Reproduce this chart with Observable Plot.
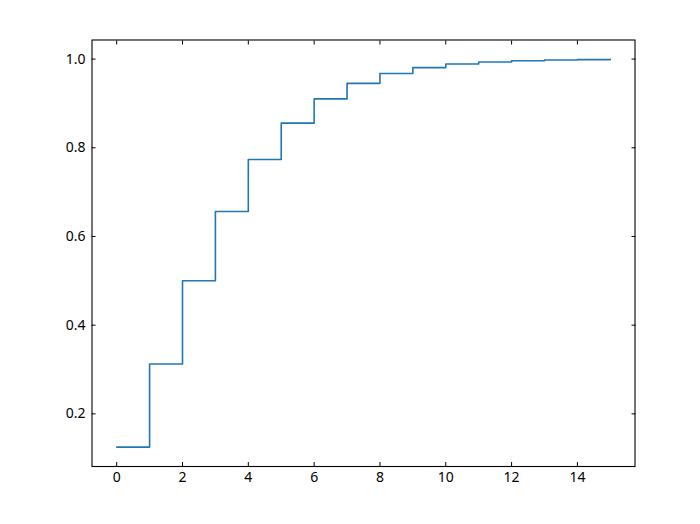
<!DOCTYPE html>
<html><head><meta charset="utf-8">
<script src="https://cdn.jsdelivr.net/npm/d3@7"></script>
<script src="https://cdn.jsdelivr.net/npm/@observablehq/plot@0.6"></script>
<style>body{margin:0;background:#fff;}</style>
</head><body><div id="chart"></div>
<script>
const xs = [0, 1, 2, 3, 4, 5, 6, 7, 8, 9, 10, 11, 12, 13, 14, 15];
const cdf = [0.125, 0.3125, 0.5, 0.65625, 0.7734, 0.8555, 0.9102, 0.9453, 0.9673, 0.9807, 0.9888, 0.9935, 0.9963, 0.9979, 0.9988, 0.9993];
const xTicks = [0, 2, 4, 6, 8, 10, 12, 14];
const yTicks = [0.2, 0.4, 0.6, 0.8, 1.0];

const data = xs.map((x, i) => ({x, y: cdf[i]}));
const font = "Noto Sans, DejaVu Sans, sans-serif";

const plot = Plot.plot({
  width: 700,
  height: 524,
  marginLeft: 91.5,
  marginRight: 65.5,
  marginTop: 39.5,
  marginBottom: 58,
  style: {fontFamily: font, fontSize: "14px", color: "#000", background: "#fff"},
  x: {domain: [-0.75, 15.75]},
  y: {domain: [0.0813, 1.043]},
  marks: [
    Plot.line(data, {x: "x", y: "y", curve: "step-after", stroke: "#1f77b4", strokeWidth: 1.6}),
    Plot.frame({stroke: "#000", strokeWidth: 1.1}),
    Plot.axisX(xTicks, {anchor: "bottom", tickSize: -4, tickPadding: 10, label: null, tickFormat: d3.format("d")}),
    Plot.axisX(xTicks, {anchor: "top", tickSize: -4, label: null, tickFormat: () => ""}),
    Plot.axisY(yTicks, {anchor: "left", tickSize: -4, tickPadding: 10.5, label: null, tickFormat: d3.format(".1f")}),
    Plot.axisY(yTicks, {anchor: "right", tickSize: -4, label: null, tickFormat: () => ""})
  ]
});
document.getElementById("chart").appendChild(plot);
</script>
</body></html>
